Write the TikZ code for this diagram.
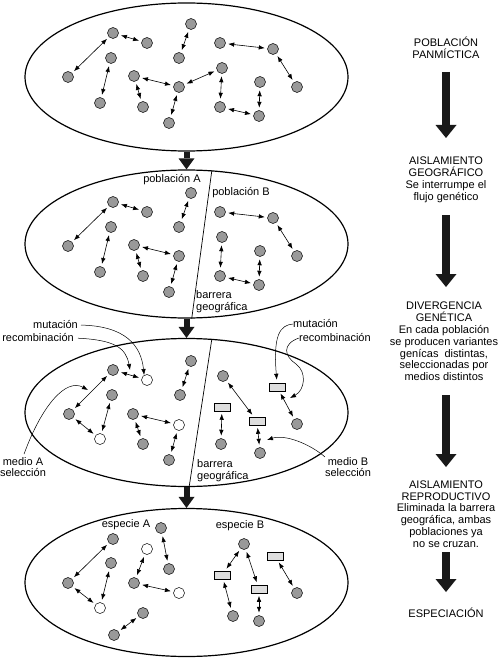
\documentclass[tikz,border=0pt]{standalone}
\usepackage{fontspec}
\setmainfont{Liberation Sans}
\usetikzlibrary{shapes.geometric,arrows.meta}

\begin{document}
\begin{tikzpicture}[x=1pt,y=-1pt,
  font=\fontsize{11}{11.8}\selectfont,
  pop/.style={ellipse, draw, line width=1.2pt, minimum width=323pt, minimum height=148pt, inner sep=0pt},
  ind/.style={circle, draw, line width=0.5pt, fill=black!40, minimum size=11pt, inner sep=0pt},
  newind/.style={ind, fill=white},
  gen/.style={rectangle, draw, line width=0.5pt, fill=black!13, minimum width=16pt, minimum height=8pt, inner sep=0pt},
  link/.style={{Latex[length=6pt,width=4.5pt]}-{Latex[length=6pt,width=4.5pt]}, line width=0.6pt, shorten <=2.5pt, shorten >=2.5pt},
  notearrow/.style={-{Latex[length=6pt,width=4.5pt]}, line width=0.5pt},
  barrier/.style={line width=0.7pt},
  poparrow/.style={-{Triangle[width=16pt,length=11pt,line width=0pt]}, line width=6pt, black!90},
  stagearrow/.style={-{Triangle[width=21pt,length=13pt,line width=0pt]}, line width=8pt, black!90},
  lbl/.style={inner sep=0pt, align=center}
]
\useasboundingbox (0,0) rectangle (500,660);

% the four populations
\node[pop] (e1) at (186.5,77) {};
\node[pop] (e2) at (186.5,244) {};
\node[pop] (e3) at (186.5,412.5) {};
\node[pop] (e4) at (186.5,582.5) {};
\draw[poparrow] (e1.south) -- (e2.north);
\draw[poparrow] (e2.south) -- (e3.north);
\draw[poparrow] (e3.south) -- (e4.north);

% panmictic population
\foreach \n/\x/\y in {a1/113/33, a2/147/43, a3/68/77, a4/111/58, a5/100/103, a6/191/24,
  a7/179/58, a8/134/76, a9/143/107, a10/179/87, a11/169/123, a12/220/43, a13/273/49,
  a14/297/87, a15/222/68, a16/220/107, a17/260/82, a18/259/116}
  \node[ind] (\n) at (\x,\y) {};
\foreach \p/\q in {a1/a3, a1/a2, a4/a5, a6/a7, a8/a10, a8/a9, a10/a11, a10/a15,
  a15/a16, a16/a18, a17/a18, a12/a13, a13/a14}
  \draw[link] (\p) -- (\q);

% geographic isolation
\foreach \n/\x/\y in {b1/113/202, b2/147/212, b3/68/246, b4/111/227, b5/100/272, b6/191/193,
  b7/179/227, b8/134/245, b9/143/276, b10/179/256, b11/169/292, b12/220/212, b13/273/218,
  b14/297/256, b15/222/237, b16/220/276, b17/260/251, b18/259/285}
  \node[ind] (\n) at (\x,\y) {};
\foreach \p/\q in {b1/b3, b1/b2, b4/b5, b6/b7, b8/b10, b8/b9, b10/b11, b12/b13,
  b13/b14, b15/b16, b16/b18, b17/b18}
  \draw[link] (\p) -- (\q);
\draw[barrier] (e2.71) -- (e2.274);
\node[lbl] (popA) at (172,180) {población A};
\node[lbl] (popB) at (241,193) {población B};
\node[lbl, anchor=west, align=left] (bar2) at (196,302) {barrera\\geográfica};

% genetic divergence
\foreach \n/\s/\x/\y in {c1/ind/113/370, c2/newind/147/380, c3/ind/69/414, c4/ind/112/395,
  c5/newind/100/439, c6/ind/191/361, c7/ind/180/395, c8/ind/133/414, c9/ind/143/444,
  c10/newind/179/425, c11/ind/169/460, c12/ind/223/376, c13/gen/277/387, c14/gen/222/407,
  c15/gen/257/421, c16/ind/297/424, c17/ind/221/444, c18/ind/260/453}
  \node[\s] (\n) at (\x,\y) {};
\foreach \p/\q in {c1/c3, c1/c2, c3/c5, c4/c5, c6/c7, c8/c10, c8/c9, c10/c11,
  c12/c15, c14/c17, c15/c18, c13/c16}
  \draw[link] (\p) -- (\q);
\draw[barrier] (e3.71) -- (e3.272);
\node[lbl, anchor=west, align=left] (bar3) at (197,471) {barrera\\geográfica};

\node[lbl, anchor=east] (mutA) at (78,325) {mutación};
\node[lbl, anchor=east] (recA) at (74,338) {recombinación};
\node[lbl] (medA) at (23,467) {medio A\\selección};
\node[lbl, anchor=west] (mutB) at (293,324) {mutación};
\node[lbl, anchor=west] (recB) at (299,338) {recombinación};
\node[lbl] (medB) at (348,467) {medio B\\selección};
\coordinate (recApt) at (130,370);
\coordinate (selApt) at (88,390);
\coordinate (recBpt) at (290,398);
\coordinate (selBpt) at (267,440);
\draw[notearrow, shorten <=3pt] (mutA.east) .. controls (125,326) and (141,345) .. (c2.120);
\draw[notearrow, shorten <=4pt] (recA.east) .. controls (115,340) and (126,348) .. (recApt);
\draw[notearrow, shorten <=3pt] (medA.north) .. controls (42,405) and (66,378) .. (selApt);
\draw[notearrow, shorten >=3pt] (mutB.west) .. controls (280,325) and (273,335) .. (c13.north);
\draw[notearrow] (recB.west) .. controls (282,344) and (284,356) .. (296,364)
  .. controls (307,372) and (305,390) .. (recBpt);
\draw[notearrow] (medB.north west) .. controls (310,444) and (285,434) .. (selBpt);

% speciation
\foreach \n/\s/\x/\y in {d1/ind/113/539, d2/ind/68/583, d3/ind/111/563, d4/newind/100/608,
  d5/newind/147/549, d6/ind/134/583, d7/newind/179/593, d8/ind/161/528, d9/ind/169/569,
  d10/ind/143/613, d11/ind/114/635, d12/ind/244/544, d13/gen/222/575, d14/gen/259/589,
  d15/gen/275/556, d16/ind/233/616, d17/ind/259/621, d18/ind/297/593}
  \node[\s] (\n) at (\x,\y) {};
\foreach \p/\q in {d1/d2, d2/d4, d3/d4, d5/d6, d6/d7, d8/d9, d10/d11, d12/d13,
  d12/d14, d13/d16, d14/d17, d15/d18}
  \draw[link] (\p) -- (\q);
\node[lbl] (spA) at (126,525) {especie A};
\node[lbl] (spB) at (240,526) {especie B};

% stages
\node[lbl] (t1) at (446,48) {POBLACIÓN\\PANMÍCTICA};
\node[lbl] (t2) at (446,180) {AISLAMIENTO\\GEOGRÁFICO\\Se interrumpe el\\flujo genético};
\node[lbl] (t3) at (444,341.5) {DIVERGENCIA\\GENÉTICA\\En cada población\\se producen variantes\\genícas\ \ distintas,\\seleccionadas por\\medios distintos};
\node[lbl] (t4) at (446,514) {AISLAMIENTO\\REPRODUCTIVO\\Eliminada la barrera\\geográfica, ambas\\poblaciones ya\\no se cruzan.};
\node[lbl] (t5) at (446,613) {ESPECIACIÓN};
\coordinate (s1a) at (446,72);  \coordinate (s1b) at (446,138);
\coordinate (s2a) at (446,215); \coordinate (s2b) at (446,287);
\coordinate (s3a) at (446,395); \coordinate (s3b) at (446,467);
\coordinate (s4a) at (446,552); \coordinate (s4b) at (446,592);
\draw[stagearrow] (s1a) -- (s1b);
\draw[stagearrow] (s2a) -- (s2b);
\draw[stagearrow] (s3a) -- (s3b);
\draw[stagearrow] (s4a) -- (s4b);
\end{tikzpicture}
\end{document}
